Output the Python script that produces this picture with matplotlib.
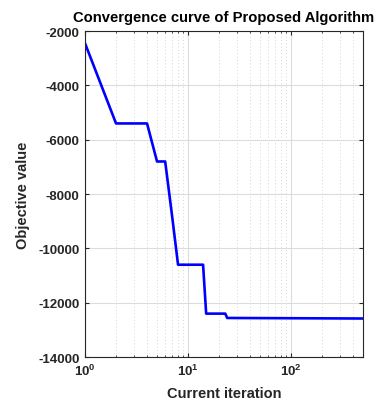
import matplotlib
matplotlib.use("Agg")
import matplotlib.pyplot as plt
from matplotlib.ticker import LogLocator, NullFormatter

# best objective value at the iterations where it changes
iters = [1, 2, 4, 5, 6, 7, 8, 14, 15, 23, 24, 500]
best_vals = [-2450, -5400, -5400, -6800, -6800, -8800, -10600, -10600,
             -12400, -12400, -12560, -12580]

yticks = [-14000, -12000, -10000, -8000, -6000, -4000, -2000]

plt.rcParams['font.family'] = ['Liberation Sans', 'DejaVu Sans']
plt.rcParams['font.weight'] = 'bold'
plt.rcParams['mathtext.default'] = 'bf'
plt.rcParams['axes.unicode_minus'] = False
txt = '#262626'

fig = plt.figure(figsize=(3.84, 4.06), dpi=100)
ax = fig.add_axes([0.2214, 0.118, 0.724, 0.803])

ax.semilogx(iters, best_vals, color=(0, 0, 1), linewidth=1.9)

ax.set_xlim(1, 500)
ax.set_ylim(-14000, -2000)
ax.set_yticks(yticks)
ax.xaxis.set_major_locator(LogLocator(base=10, numticks=10))
ax.xaxis.set_minor_locator(LogLocator(base=10, subs=range(2, 10), numticks=20))
ax.xaxis.set_minor_formatter(NullFormatter())

ax.grid(True, which='major', color='#dcdcdc', linewidth=0.8, linestyle='-')
ax.grid(True, which='minor', axis='x', color='#c8c8c8', linewidth=0.6, linestyle=(0, (1, 3)))
ax.set_axisbelow(True)

ax.tick_params(which='both', direction='in', top=True, right=True, colors=txt,
               labelsize=9.5, length=3, pad=4)
ax.tick_params(which='minor', length=1.5)
for lbl in ax.get_xticklabels() + ax.get_yticklabels():
    lbl.set_fontweight('bold')
for sp in ax.spines.values():
    sp.set_color(txt)
    sp.set_linewidth(0.8)

ax.set_title('Convergence curve of Proposed Algorithm', fontsize=10.6,
             fontweight='bold', color='black', pad=7)
ax.set_xlabel('Current iteration', fontsize=10.5, fontweight='bold', color=txt,
              labelpad=6)
ax.set_ylabel('Objective value', fontsize=10.5, fontweight='bold', color=txt,
              labelpad=6)

fig.savefig('out.png', dpi=100)
